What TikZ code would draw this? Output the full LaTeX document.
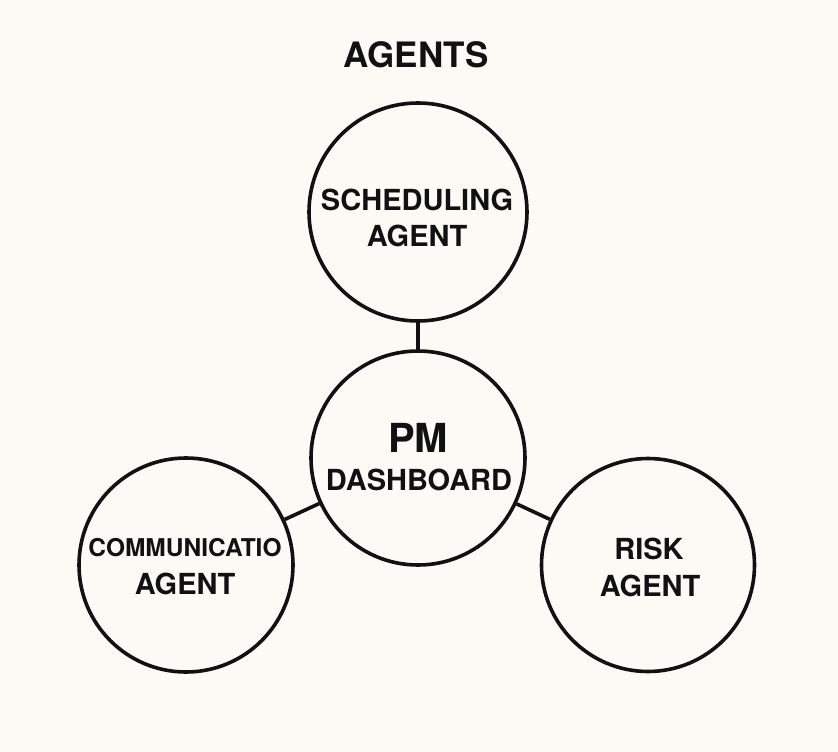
\documentclass[tikz,border=0pt]{standalone}
\usepackage{fontspec}
\setmainfont{TeX Gyre Heros}
\definecolor{bg}{RGB}{252,250,245}
\definecolor{ink}{RGB}{17,17,17}
\begin{document}
\begin{tikzpicture}[x=1pt,y=-1pt,
  agent/.style={circle, draw=ink, line width=3.6pt, inner sep=0pt, fill=none},
  lbl/.style={font=\bfseries\fontsize{29}{29}\selectfont, text=ink, inner sep=0pt, anchor=base},
  link/.style={draw=ink, line width=3.6pt}]
\fill[bg] (0,0) rectangle (838,752);
\useasboundingbox (0,0) rectangle (838,752);
% circles
\node[agent, minimum size=218pt] (sched) at (418,212) {};
\node[agent, minimum size=214pt] (pm) at (418,458) {};
\node[agent, minimum size=214pt] (comm) at (186,565) {};
\node[agent, minimum size=213pt] (risk) at (648,565) {};
% connectors
\draw[link] (sched) -- (pm);
\draw[link] (pm) -- (comm);
\draw[link] (pm) -- (risk);
% texts
\node[lbl, font=\bfseries\fontsize{35}{35}\selectfont] (title) at (416,68) {AGENTS};
\node[lbl] (schedA) at (417,210) {SCHEDULING};
\node[lbl] (schedB) at (417,246) {AGENT};
\node[lbl, font=\bfseries\fontsize{40}{40}\selectfont] (pmA) at (418,452) {PM};
\node[lbl] (pmB) at (419,490) {DASHBOARD};
\node[lbl, font=\bfseries\fontsize{24.5}{24.5}\selectfont] (commA) at (185,556) {COMMUNICATIO};
\node[lbl] (commB) at (185,594) {AGENT};
\node[lbl] (riskA) at (649,559) {RISK};
\node[lbl] (riskB) at (650,596) {AGENT};
\end{tikzpicture}
\end{document}
